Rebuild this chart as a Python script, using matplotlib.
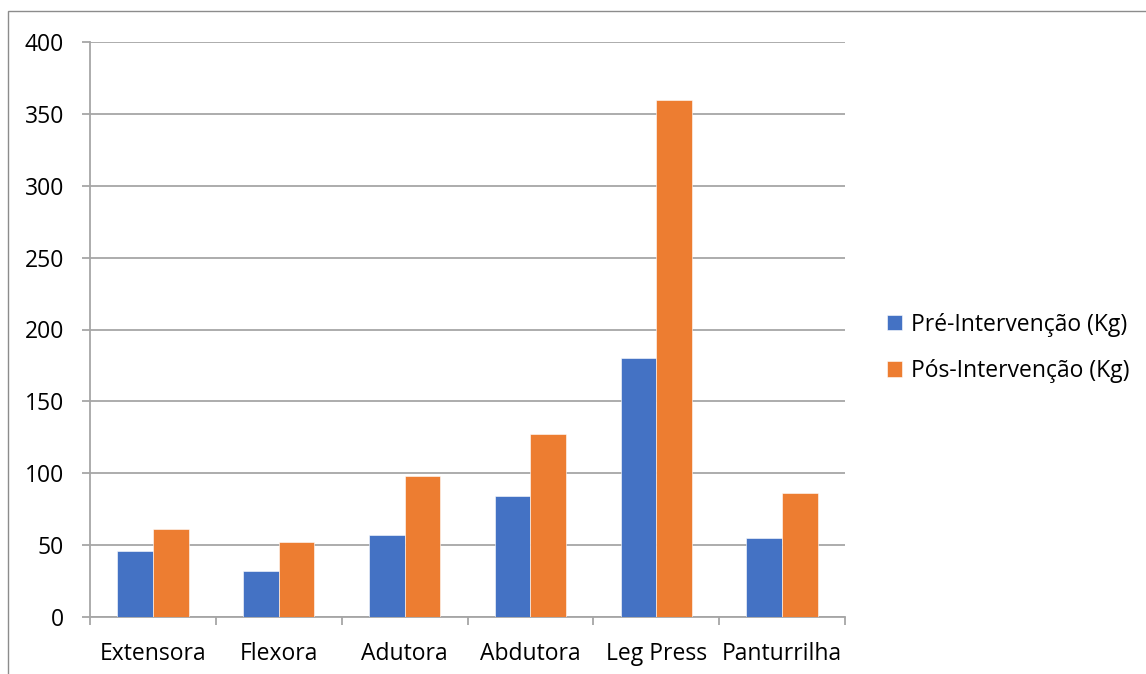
import matplotlib

matplotlib.use("Agg")

import matplotlib.pyplot as plt
import numpy as np
from matplotlib.patches import Rectangle

categories = ["Extensora", "Flexora", "Adutora", "Abdutora", "Leg Press", "Panturrilha"]
pre = [46, 32, 57, 84, 180, 55]
post = [61, 52, 98, 127, 360, 86]
series_labels = ["Pré-Intervenção (Kg)", "Pós-Intervenção (Kg)"]
yticks = [0, 50, 100, 150, 200, 250, 300, 350, 400]

BLUE = "#4472C4"
ORANGE = "#ED7D31"
GRID = "#A6A6A6"
FS = 16.5

plt.rcParams["font.family"] = ["Open Sans", "DejaVu Sans"]

W, H = 1146, 674
fig = plt.figure(figsize=(W / 100, H / 100), dpi=100)
ax = fig.add_axes([90 / W, 1 - 617 / H, (845 - 90) / W, (617 - 42) / H])

# chart border (runs off the right and bottom edges)
fig.patches.append(Rectangle((7.5 / W, -0.1), 1.2, 1 - 11 / H + 0.1,
                             transform=fig.transFigure, fill=False,
                             edgecolor="#8C8C8C", linewidth=1.0))

x = np.arange(len(categories))
bw = 0.284
ax.bar(x - bw / 2, pre, bw, color=BLUE, edgecolor="white", linewidth=0.4,
       label=series_labels[0], zorder=3)
ax.bar(x + bw / 2, post, bw, color=ORANGE, edgecolor="white", linewidth=0.4,
       label=series_labels[1], zorder=3)

ax.set_xlim(-0.5, len(categories) - 0.5)
ax.set_ylim(0, 400)
ax.set_yticks(yticks)
ax.set_yticklabels([str(v) for v in yticks], fontsize=FS)
ax.set_xticks(x)
ax.set_xticklabels(categories, fontsize=FS)
ax.tick_params(axis="x", length=0, pad=18)
ax.tick_params(axis="y", length=5.8, color=GRID, width=1.3, pad=13)

# category boundary ticks below the x axis
ax.set_xticks(np.arange(-0.5, len(categories)), minor=True)
ax.tick_params(axis="x", which="minor", length=5.8, color=GRID, width=1.3)

ax.grid(axis="y", color=GRID, linewidth=1.3, zorder=0)
for side in ("top", "right"):
    ax.spines[side].set_visible(False)
for side in ("left", "bottom"):
    ax.spines[side].set_color(GRID)
    ax.spines[side].set_linewidth(1.3)

fig.legend(loc="center left", bbox_to_anchor=(887 / W, 1 - 348 / H),
           borderaxespad=0, borderpad=0, frameon=False, fontsize=FS,
           handlelength=0.65, handleheight=0.65, handletextpad=0.4,
           labelspacing=0.97)

fig.savefig("out.png", dpi=100)
